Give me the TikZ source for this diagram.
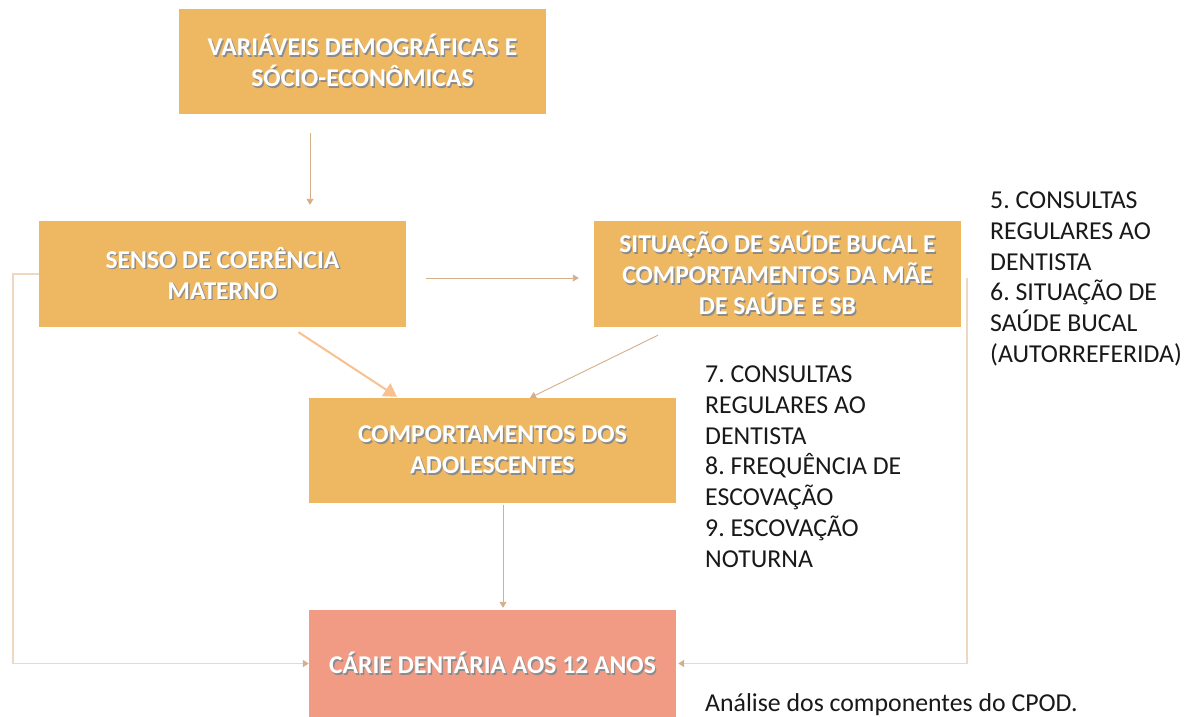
\documentclass[tikz,border=0pt]{standalone}
\usepackage{fontspec}
\setmainfont{Carlito}
\frenchspacing
\usetikzlibrary{arrows.meta,calc}
\definecolor{boxor}{HTML}{EDB861}
\definecolor{boxred}{HTML}{F19B85}
\definecolor{tan}{HTML}{D6AE89}
\definecolor{paletan}{HTML}{EFD8C2}
\definecolor{thickor}{HTML}{F9C190}
\newcommand\shd[1]{\leavevmode\rlap{\kern1.4pt\raisebox{-1.8pt}{\color{black!45}#1}}#1}
\tikzset{
  box/.style={fill=boxor, draw=none, inner sep=0pt, align=center, text=white,
    minimum width=367pt, font=\fontsize{25.6}{31}\selectfont\bfseries},
  arr/.style={draw=tan, line width=0.9pt, -{Triangle[width=7pt,length=6pt]}},
  looparr/.style={draw=paletan, line width=1.6pt, -{Triangle[width=7pt,length=6pt,color=tan]}},
  thickarr/.style={draw=thickor, line width=2pt, -{Triangle[width=15pt,length=13pt]}},
  side/.style={anchor=north west, align=left, inner sep=0pt, text=black!90,
    font=\fontsize{25.8}{30.8}\selectfont},
}
\begin{document}
\begin{tikzpicture}[x=1pt,y=-1pt]
\useasboundingbox (0,0) rectangle (1191,717);
\fill[white] (0,0) rectangle (1191,717);
\node[box, minimum height=105pt] (b1) at (362.5,61.5)
  {\shd{VARIÁVEIS DEMOGRÁFICAS E}\\\shd{SÓCIO-ECONÔMICAS}};
\node[box, minimum height=106pt] (b2) at (222.5,274)
  {\shd{SENSO DE COERÊNCIA}\\\shd{MATERNO}};
\node[box, minimum height=106pt] (b3) at (777.5,274)
  {\shd{SITUAÇÃO DE SAÚDE BUCAL E}\\\shd{COMPORTAMENTOS DA MÃE}\\\shd{DE SAÚDE E SB}};
\node[box, minimum height=105pt] (b4) at (492.5,450.5)
  {\shd{COMPORTAMENTOS DOS}\\\shd{ADOLESCENTES}};
\node[box, fill=boxred, minimum height=107pt] (b5) at (492.5,663.5)
  {\shd{CÁRIE DENTÁRIA AOS 12 ANOS}};

\node[side] (t1) at (990,191.5) {5. CONSULTAS\\REGULARES AO\\DENTISTA\\6. SITUAÇÃO DE\\SAÚDE BUCAL\\(AUTORREFERIDA)};
\node[side] (t2) at (705,365.5) {7. CONSULTAS\\REGULARES AO\\DENTISTA\\8. FREQUÊNCIA DE\\ESCOVAÇÃO\\9. ESCOVAÇÃO\\NOTURNA};
\node[side, anchor=base west] (t3) at (705,711) {Análise dos componentes do CPOD.};

\draw[arr] ($(b1.south)+(-52.5,19)$) -- ($(b2.north)+(87.5,-16)$);
\draw[arr] ($(b2.east)+(20,4)$) -- ($(b3.west)+(-15,4)$);
\draw[thickarr] ($(b2.south)+(76,5)$) -- ($(b4.north)+(-95.5,-1)$);
\draw[arr] ($(b3.south)+(-119.5,8)$) -- ($(b4.north)+(37.5,0)$);
\draw[arr] ($(b4.south)+(10.5,2)$) -- ($(b5.north)+(10.5,-2)$);
\draw[looparr] (b2.west) -- ++(-26,0) |- (b5.west);
\coordinate (r) at (967,278);
\draw[looparr] (r) |- ($(b5.east)+(2,0)$);
\end{tikzpicture}
\end{document}
